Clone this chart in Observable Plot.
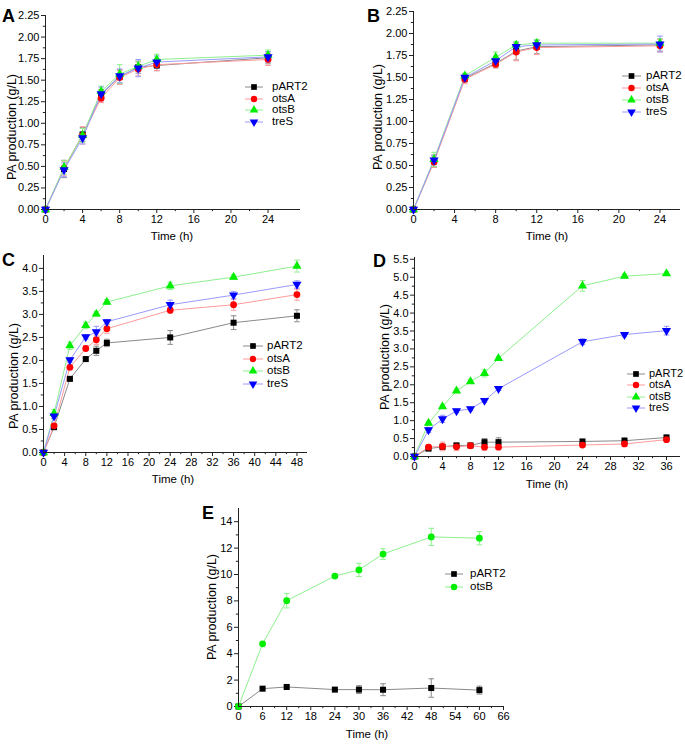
<!DOCTYPE html>
<html><head><meta charset="utf-8">
<script src="https://cdn.jsdelivr.net/npm/d3@7"></script>
<script src="https://cdn.jsdelivr.net/npm/@observablehq/plot@0.6"></script>
<style>
body{margin:0;background:#fff;font-family:"Liberation Sans",Arial,sans-serif;}
#wrap{position:relative;width:685px;height:744px;overflow:hidden;background:#fff;}
.panel{position:absolute;}
.xl,.yl{position:absolute;white-space:nowrap;color:#000;line-height:1;}
.xl{font-size:11.5px;transform:translate(-50%,-50%);}
.yl{font-size:12.5px;transform:translate(-50%,-50%) rotate(-90deg);}
.letter{position:absolute;font-weight:bold;font-size:18px;line-height:1;color:#000;}
.leg{position:absolute;font-size:11.5px;color:#000;white-space:nowrap;}
</style></head><body><div id="wrap"></div>
<script>
// ---------- data ----------
const seriesNames = ["pART2", "otsA", "otsB", "treS"];

const timeA = [0, 2, 4, 6, 8, 10, 12, 24];
const A_pART2 = [0, 0.47, 0.87, 1.33, 1.54, 1.65, 1.67, 1.76];
const A_pART2_err = [0, 0.10, 0.08, 0.06, 0.08, 0.07, 0.06, 0.07];
const A_otsA = [0, 0.48, 0.86, 1.29, 1.53, 1.63, 1.68, 1.74];
const A_otsA_err = [0, 0.08, 0.10, 0.05, 0.08, 0.08, 0.07, 0.07];
const A_otsB = [0, 0.49, 0.86, 1.37, 1.57, 1.66, 1.74, 1.79];
const A_otsB_err = [0, 0.08, 0.08, 0.06, 0.11, 0.06, 0.06, 0.06];
const A_treS = [0, 0.46, 0.83, 1.34, 1.55, 1.64, 1.71, 1.77];
const A_treS_err = [0, 0.08, 0.07, 0.08, 0.08, 0.10, 0.07, 0.06];

const timeB = [0, 2, 5, 8, 10, 12, 24];
const B_pART2 = [0, 0.55, 1.49, 1.66, 1.80, 1.85, 1.87];
const B_pART2_err = [0, 0.07, 0.04, 0.05, 0.10, 0.08, 0.07];
const B_otsA = [0, 0.54, 1.48, 1.65, 1.79, 1.84, 1.86];
const B_otsA_err = [0, 0.06, 0.05, 0.04, 0.10, 0.08, 0.07];
const B_otsB = [0, 0.57, 1.52, 1.73, 1.87, 1.89, 1.89];
const B_otsB_err = [0, 0.08, 0.03, 0.06, 0.04, 0.04, 0.05];
const B_treS = [0, 0.56, 1.50, 1.69, 1.85, 1.87, 1.88];
const B_treS_err = [0, 0.05, 0.04, 0.05, 0.05, 0.05, 0.09];

const timeC = [0, 2, 5, 8, 10, 12, 24, 36, 48];
const C_pART2 = [0, 0.55, 1.60, 2.03, 2.21, 2.38, 2.50, 2.82, 2.97];
const C_pART2_err = [0, 0.03, 0.03, 0.03, 0.10, 0.08, 0.15, 0.15, 0.13];
const C_otsA = [0, 0.58, 1.85, 2.26, 2.45, 2.69, 3.09, 3.21, 3.43];
const C_otsA_err = [0, 0.05, 0.05, 0.05, 0.10, 0.10, 0.06, 0.12, 0.12];
const C_otsB = [0, 0.85, 2.32, 2.76, 3.01, 3.27, 3.62, 3.81, 4.05];
const C_otsB_err = [0, 0.08, 0.08, 0.07, 0.05, 0.05, 0.08, 0.05, 0.13];
const C_treS = [0, 0.79, 2.01, 2.51, 2.62, 2.84, 3.21, 3.42, 3.65];
const C_treS_err = [0, 0.05, 0.05, 0.05, 0.12, 0.05, 0.10, 0.08, 0.08];

const timeD = [0, 2, 4, 6, 8, 10, 12, 24, 30, 36];
const D_pART2 = [0, 0.22, 0.27, 0.31, 0.31, 0.40, 0.40, 0.42, 0.44, 0.53];
const D_pART2_err = [0, 0.05, 0.05, 0.05, 0.04, 0.10, 0.12, 0.04, 0.08, 0.07];
const D_otsA = [0, 0.26, 0.28, 0.27, 0.30, 0.26, 0.26, 0.32, 0.35, 0.47];
const D_otsA_err = [0, 0.06, 0.12, 0.10, 0.05, 0.08, 0.05, 0.06, 0.07, 0.05];
const D_otsB = [0, 0.93, 1.39, 1.83, 2.09, 2.32, 2.74, 4.76, 5.03, 5.10];
const D_otsB_err = [0, 0.05, 0.05, 0.05, 0.05, 0.10, 0.05, 0.15, 0.06, 0.05];
const D_treS = [0, 0.74, 1.05, 1.27, 1.33, 1.56, 1.89, 3.20, 3.40, 3.51];
const D_treS_err = [0, 0.07, 0.10, 0.05, 0.05, 0.05, 0.05, 0.08, 0.06, 0.12];

const timeE = [0, 6, 12, 24, 30, 36, 48, 60];
const E_pART2 = [0, 1.35, 1.48, 1.28, 1.28, 1.27, 1.40, 1.24];
const E_pART2_err = [0, 0.10, 0.10, 0.10, 0.30, 0.45, 0.70, 0.30];
const E_otsB = [0, 4.75, 8.02, 9.88, 10.35, 11.55, 12.85, 12.75];
const E_otsB_err = [0, 0.10, 0.55, 0.10, 0.50, 0.40, 0.65, 0.50];

// tick values
const ticksA_x = [0, 4, 8, 12, 16, 20, 24];
const ticksA_y = [0, 0.25, 0.5, 0.75, 1, 1.25, 1.5, 1.75, 2, 2.25];
const ticksC_x = [0, 4, 8, 12, 16, 20, 24, 28, 32, 36, 40, 44, 48];
const ticksC_y = [0, 0.5, 1, 1.5, 2, 2.5, 3, 3.5, 4];
const ticksD_x = [0, 4, 8, 12, 16, 20, 24, 28, 32, 36];
const ticksD_y = [0, 0.5, 1, 1.5, 2, 2.5, 3, 3.5, 4, 4.5, 5, 5.5];
const ticksE_x = [0, 6, 12, 18, 24, 30, 36, 42, 48, 54, 60, 66];
const ticksE_y = [0, 2, 4, 6, 8, 10, 12, 14];

// ---------- styles ----------
const markColor = {pART2: "#000000", otsA: "#ff0000", otsB: "#00ee00", treS: "#0000ff"};
const lineColor = {pART2: "#8a8a8a", otsA: "#ff9a9a", otsB: "#8ef08e", treS: "#9a9aff"};
const triDown = {draw(ctx, size) {
  const y = -Math.sqrt(size / (Math.sqrt(3) * 3)), s = Math.sqrt(3);
  ctx.moveTo(0, -2 * y); ctx.lineTo(-s * y, y); ctx.lineTo(s * y, y); ctx.closePath();
}};
const capSym = {draw(ctx, size) { ctx.moveTo(-2.8, 0); ctx.lineTo(2.8, 0); }};
const symA = {pART2: d3.symbolSquare, otsA: d3.symbolCircle, otsB: d3.symbolTriangle, treS: triDown};
const plotSym = {pART2: "square", otsA: "circle", otsB: "triangle", treS: triDown};

function minorOf(t) {
  const m = [];
  for (let i = 0; i < t.length - 1; i++) m.push((t[i] + t[i + 1]) / 2);
  return m;
}

const wrap = document.getElementById("wrap");

function makePanel(cfg) {
  const lines = [], errs = [], dots = [];
  cfg.series.forEach(s => {
    const rows = s.values.map((v, i) => ({t: cfg.time[i], v, e: s.err[i]}));
    const sym = s.symbol || plotSym[s.name];
    lines.push(Plot.line(rows, {x: "t", y: "v", stroke: lineColor[s.name], strokeWidth: 1}));
    const er = rows.filter(d => d.e > 0);
    errs.push(Plot.ruleX(er, {x: "t", y1: d => d.v - d.e, y2: d => d.v + d.e, stroke: lineColor[s.name], strokeWidth: 1}));
    errs.push(Plot.dot(er, {x: "t", y: d => d.v - d.e, symbol: capSym, r: 2, stroke: lineColor[s.name], fill: "none", strokeWidth: 1}));
    errs.push(Plot.dot(er, {x: "t", y: d => d.v + d.e, symbol: capSym, r: 2, stroke: lineColor[s.name], fill: "none", strokeWidth: 1}));
    dots.push(Plot.dot(rows, {x: "t", y: "v", symbol: sym, r: s.r || 3.4, fill: markColor[s.name], stroke: "none"}));
  });
  const svg = Plot.plot({
    width: cfg.width, height: cfg.height,
    marginLeft: cfg.ml, marginRight: cfg.mr, marginTop: cfg.mt, marginBottom: cfg.mb,
    style: {fontFamily: "Liberation Sans, Arial, sans-serif", fontSize: "11px", color: "#000", background: "transparent"},
    x: {domain: cfg.xDomain},
    y: {domain: cfg.yDomain},
    marks: [
      Plot.axisX({ticks: cfg.xTicks, tickSize: 4, tickPadding: 2, label: null, fontSize: 11, stroke: "#222"}),
      Plot.axisX({ticks: minorOf(cfg.xTicks), tickSize: 2.2, tickFormat: () => "", label: null, stroke: "#222"}),
      Plot.axisY({ticks: cfg.yTicks, tickSize: 4, tickPadding: 2, label: null, tickFormat: d3.format(cfg.yFmt), fontSize: 11, stroke: "#222"}),
      Plot.axisY({ticks: minorOf(cfg.yTicks), tickSize: 2.2, tickFormat: () => "", label: null, stroke: "#222"}),
      ...lines, ...errs, ...dots,
      Plot.ruleX([0], {stroke: "#222", strokeWidth: 1}),
      Plot.ruleY([0], {stroke: "#222", strokeWidth: 1})
    ]
  });
  svg.classList.add("panel");
  svg.style.left = cfg.left + "px";
  svg.style.top = cfg.top + "px";
  wrap.appendChild(svg);

  const L = document.createElement("div");
  L.className = "letter"; L.textContent = cfg.letter;
  L.style.left = cfg.letterPos[0] + "px"; L.style.top = cfg.letterPos[1] + "px";
  wrap.appendChild(L);

  const xl = document.createElement("div");
  xl.className = "xl"; xl.textContent = "Time (h)";
  xl.style.left = cfg.xlPos[0] + "px"; xl.style.top = cfg.xlPos[1] + "px";
  wrap.appendChild(xl);

  const yl = document.createElement("div");
  yl.className = "yl"; yl.textContent = "PA production (g/L)";
  yl.style.left = cfg.ylPos[0] + "px"; yl.style.top = cfg.ylPos[1] + "px";
  wrap.appendChild(yl);

  // legend
  cfg.series.forEach((s, i) => {
    const y = cfg.leg.y0 + i * cfg.leg.dy;
    const sw = d3.create("svg").attr("width", 24).attr("height", 10)
      .style("position", "absolute").style("left", (cfg.leg.x - 2) + "px").style("top", (y - 5) + "px");
    sw.append("line").attr("x1", 2).attr("x2", 2 + cfg.leg.w).attr("y1", 5).attr("y2", 5)
      .attr("stroke", lineColor[s.name]).attr("stroke-width", 1);
    const type = s.legSym || symA[s.name];
    sw.append("path").attr("transform", `translate(${2 + cfg.leg.w / 2},5)`)
      .attr("d", d3.symbol(type, Math.PI * 3.2 * 3.2)()).attr("fill", markColor[s.name]);
    wrap.appendChild(sw.node());
    const t = document.createElement("div");
    t.className = "leg"; t.textContent = s.name;
    if (cfg.leg.fs) t.style.fontSize = cfg.leg.fs + "px";
    t.style.left = cfg.leg.tx + "px"; t.style.top = (y - 7) + "px";
    wrap.appendChild(t);
  });
}

makePanel({letter: "A", left: 0, top: 0, width: 340, height: 245, ml: 45, mr: 40, mt: 15, mb: 36,
  xDomain: [0, 27.5], yDomain: [0, 2.25], xTicks: ticksA_x, yTicks: ticksA_y, yFmt: ".2f",
  time: timeA, series: [
    {name: "pART2", values: A_pART2, err: A_pART2_err},
    {name: "otsA", values: A_otsA, err: A_otsA_err},
    {name: "otsB", values: A_otsB, err: A_otsB_err},
    {name: "treS", values: A_treS, err: A_treS_err}],
  letterPos: [2, 7], xlPos: [172, 237], ylPos: [12, 127],
  leg: {x: 245, w: 18, tx: 272, y0: 87, dy: 11.7}});

makePanel({letter: "B", left: 340, top: 0, width: 345, height: 245, ml: 73, mr: 5, mt: 11, mb: 36,
  xDomain: [0, 26], yDomain: [0, 2.25], xTicks: ticksA_x, yTicks: ticksA_y, yFmt: ".2f",
  time: timeB, series: [
    {name: "pART2", values: B_pART2, err: B_pART2_err},
    {name: "otsA", values: B_otsA, err: B_otsA_err},
    {name: "otsB", values: B_otsB, err: B_otsB_err},
    {name: "treS", values: B_treS, err: B_treS_err}],
  letterPos: [367, 7], xlPos: [547, 237], ylPos: [378, 117],
  leg: {x: 622, w: 19, tx: 646, y0: 76, dy: 11.9}});

makePanel({letter: "C", left: 0, top: 245, width: 340, height: 245, ml: 43, mr: 33, mt: 10, mb: 38,
  xDomain: [0, 50], yDomain: [0, 4.28], xTicks: ticksC_x, yTicks: ticksC_y, yFmt: ".1f",
  time: timeC, series: [
    {name: "pART2", values: C_pART2, err: C_pART2_err},
    {name: "otsA", values: C_otsA, err: C_otsA_err},
    {name: "otsB", values: C_otsB, err: C_otsB_err},
    {name: "treS", values: C_treS, err: C_treS_err}],
  letterPos: [2, 251], xlPos: [173, 480], ylPos: [14, 376],
  leg: {x: 243, w: 20, tx: 267, y0: 346, dy: 12.6}});

makePanel({letter: "D", left: 340, top: 245, width: 345, height: 245, ml: 74, mr: 5, mt: 12, mb: 34,
  xDomain: [0, 38], yDomain: [0, 5.55], xTicks: ticksD_x, yTicks: ticksD_y, yFmt: ".1f",
  time: timeD, series: [
    {name: "pART2", values: D_pART2, err: D_pART2_err},
    {name: "otsA", values: D_otsA, err: D_otsA_err},
    {name: "otsB", values: D_otsB, err: D_otsB_err},
    {name: "treS", values: D_treS, err: D_treS_err}],
  letterPos: [373, 252], xlPos: [547, 485], ylPos: [385, 357],
  leg: {x: 627, w: 18, tx: 649, y0: 374, dy: 11.4, fs: 11}});

makePanel({letter: "E", left: 180, top: 490, width: 340, height: 254, ml: 58, mr: 17, mt: 18, mb: 38,
  xDomain: [0, 66], yDomain: [0, 15], xTicks: ticksE_x, yTicks: ticksE_y, yFmt: "d",
  time: timeE, series: [
    {name: "pART2", values: E_pART2, err: E_pART2_err},
    {name: "otsB", values: E_otsB, err: E_otsB_err, symbol: "circle", legSym: d3.symbolCircle}],
  letterPos: [202, 504], xlPos: [367, 735], ylPos: [212, 607],
  leg: {x: 445, w: 18, tx: 470, y0: 574, dy: 13}});
</script>
</body></html>
